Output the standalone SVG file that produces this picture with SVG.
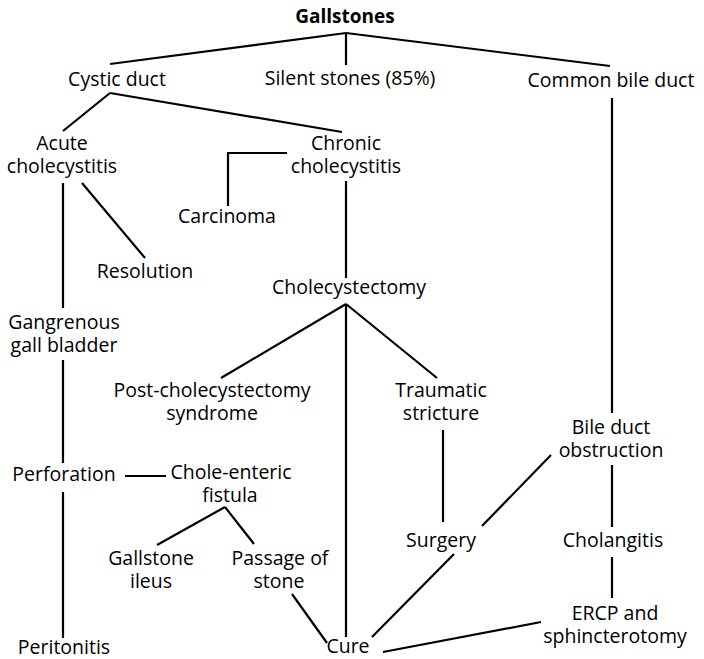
<svg xmlns="http://www.w3.org/2000/svg" width="704" height="659" viewBox="0 0 704 659">
<style>
text{font-family:"Open Sans","Noto Sans","Liberation Sans",sans-serif;font-size:19.5px;fill:#000;text-anchor:middle}
.b{font-weight:bold;font-size:19px}
.c line,.c polyline{stroke:#000;stroke-width:2.2;fill:none}
</style>
<rect width="704" height="659" fill="#fff"/>
<g class="c" id="connectors">
<line x1="346" y1="33" x2="110" y2="64"/>
<line x1="346" y1="33" x2="346" y2="65"/>
<line x1="346" y1="33" x2="610" y2="66"/>
<line x1="110" y1="93" x2="63" y2="131"/>
<line x1="110" y1="93" x2="342" y2="132"/>
<line x1="612" y1="98" x2="612" y2="413"/>
<line x1="63" y1="183" x2="63" y2="308"/>
<line x1="82" y1="183" x2="145" y2="258"/>
<polyline points="287,153 228,153 228,206"/>
<line x1="346" y1="181" x2="346" y2="278"/>
<line x1="346" y1="304" x2="221" y2="378"/>
<line x1="346" y1="304" x2="437" y2="378"/>
<line x1="346" y1="304" x2="346" y2="637"/>
<line x1="443" y1="430" x2="443" y2="522"/>
<line x1="63" y1="360" x2="63" y2="463"/>
<line x1="63" y1="492" x2="63" y2="638"/>
<line x1="125" y1="476" x2="166" y2="476"/>
<line x1="225" y1="507" x2="157" y2="545"/>
<line x1="225" y1="507" x2="254" y2="544"/>
<line x1="292" y1="594" x2="327" y2="643"/>
<line x1="551" y1="455" x2="482" y2="526"/>
<line x1="454" y1="554" x2="372" y2="637"/>
<line x1="383" y1="652" x2="541" y2="622"/>
<line x1="612" y1="465" x2="612" y2="527"/>
<line x1="612" y1="557" x2="612" y2="598"/>
</g>
<g id="gallstones"><text class="b" x="345" y="23">Gallstones</text></g>
<g id="silent"><text x="350" y="85">Silent stones (85%)</text></g>
<g id="cystic"><text x="117" y="86">Cystic duct</text></g>
<g id="cbd"><text x="611" y="87">Common bile duct</text></g>
<g id="acute"><text x="62" y="150">Acute</text><text x="62" y="173">cholecystitis</text></g>
<g id="chronic"><text x="346" y="150">Chronic</text><text x="346" y="173">cholecystitis</text></g>
<g id="carcinoma"><text x="227" y="223">Carcinoma</text></g>
<g id="resolution"><text x="145" y="278">Resolution</text></g>
<g id="cholecystectomy"><text x="349" y="294">Cholecystectomy</text></g>
<g id="gangrenous"><text x="64" y="329">Gangrenous</text><text x="64" y="352">gall bladder</text></g>
<g id="postchole"><text x="212" y="397">Post-cholecystectomy</text><text x="212" y="420">syndrome</text></g>
<g id="traumatic"><text x="441" y="397">Traumatic</text><text x="441" y="420">stricture</text></g>
<g id="obstruction"><text x="611" y="434">Bile duct</text><text x="611" y="457">obstruction</text></g>
<g id="perforation"><text x="64" y="481">Perforation</text></g>
<g id="fistula"><text x="231" y="479">Chole-enteric</text><text x="230" y="502">fistula</text></g>
<g id="surgery"><text x="441" y="547">Surgery</text></g>
<g id="cholangitis"><text x="613" y="547">Cholangitis</text></g>
<g id="ileus"><text x="151" y="565">Gallstone</text><text x="151" y="588">ileus</text></g>
<g id="passage"><text x="280" y="565">Passage of</text><text x="279" y="588">stone</text></g>
<g id="ercp"><text x="615" y="620">ERCP and</text><text x="615" y="643">sphincterotomy</text></g>
<g id="peritonitis"><text x="64" y="654">Peritonitis</text></g>
<g id="cure"><text x="348" y="653">Cure</text></g>
</svg>
